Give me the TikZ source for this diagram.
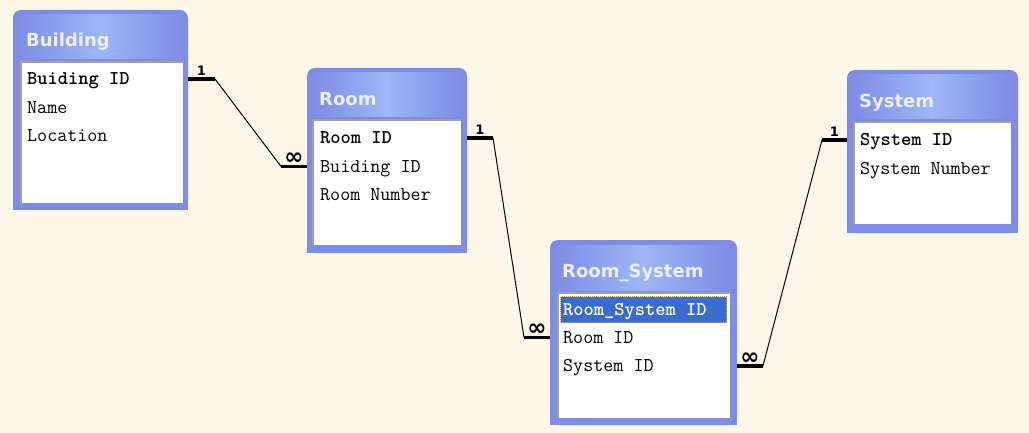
\documentclass[tikz,border=0pt]{standalone}
\usepackage{fontspec}
\usepackage{tikz}
\usetikzlibrary{positioning,calc}
\newfontfamily\headfont{DejaVu Sans}
\definecolor{paper}{HTML}{FBF8E9}
\definecolor{frame}{HTML}{7F8CE6}
\definecolor{glow}{HTML}{9DB6F5}
\definecolor{caption}{HTML}{EAF0FF}
\definecolor{inset}{HTML}{A0A0A0}
\definecolor{select}{HTML}{3B6CCB}
\definecolor{focus}{HTML}{D8A23A}

\begin{document}
\begin{tikzpicture}[x=1pt, y=-1pt,
    table/.style={rectangle, fill=frame, rounded corners=8pt, inner sep=0pt,
                  outer sep=0pt, anchor=north west},
    listbox/.style={rectangle, fill=white, inner sep=0pt, outer sep=0pt,
                    anchor=north west},
    header/.style={left color=frame, right color=frame, middle color=glow},
    title/.style={anchor=west, inner sep=0pt, text height=15.5pt, text depth=2.5pt,
                  font=\headfont\bfseries\fontsize{18}{20}\selectfont, text=caption},
    field/.style={anchor=west, inner sep=0pt, text height=13pt, text depth=1pt,
                  font=\ttfamily\fontsize{19.5}{21}\selectfont},
    pkey/.style={field, font=\ttfamily\bfseries\fontsize{19.5}{21}\selectfont},
    nextrow/.style={below=14pt of #1.south west, anchor=north west},
    edge/.style={draw=inset, line width=1.5pt},
    selrow/.style={rectangle, fill=select, draw=focus, densely dotted,
                   line width=1pt, inner sep=0pt, anchor=north west},
    stub/.style={draw=black, line width=3.5pt},
    link/.style={draw=black, line width=1pt},
    card/.style={inner sep=2pt, font=\headfont\bfseries\fontsize{13}{13}\selectfont},
    many/.style={inner sep=0pt, font=\headfont\bfseries\fontsize{23}{23}\selectfont},
]
\useasboundingbox (0,0) rectangle (1029,433);
\fill[paper] (0,0) rectangle (1029,433);

% Building
\node[table, minimum width=175pt, minimum height=200pt] (building) at (13,10) {};
\fill[frame] (building.west) rectangle (building.south east);
\node[listbox, minimum width=162pt, minimum height=141pt] (buildingbox) at (21,62) {};
\shade[header] ([xshift=5pt,yshift=-5pt]building.north west) rectangle ([yshift=3pt]buildingbox.north east);
\draw[edge] (buildingbox.south west) |- (buildingbox.north east);
\node[title] (buildingtitle) at (26,40) {Building};
\node[pkey] (bldgid) at (27,79) {Buiding ID};
\node[field, nextrow=bldgid] (bldgname) {Name};
\node[field, nextrow=bldgname] (bldgloc) {Location};

% Room
\node[table, minimum width=160pt, minimum height=185pt] (room) at (307,68) {};
\fill[frame] (room.west) rectangle (room.south east);
\node[listbox, minimum width=148pt, minimum height=125pt] (roombox) at (313,120) {};
\shade[header] ([xshift=5pt,yshift=-5pt]room.north west) rectangle ([yshift=3pt]roombox.north east);
\draw[edge] (roombox.south west) |- (roombox.north east);
\node[title] (roomtitle) at (319,99) {Room};
\node[pkey] (roomid) at (320,138) {Room ID};
\node[field, nextrow=roomid] (roombid) {Buiding ID};
\node[field, nextrow=roombid] (roomnum) {Room Number};

% Room_System
\node[table, minimum width=187pt, minimum height=185pt] (roomsys) at (550,240) {};
\fill[frame] (roomsys.west) rectangle (roomsys.south east);
\node[listbox, minimum width=172pt, minimum height=125pt] (roomsysbox) at (558,293) {};
\shade[header] ([xshift=5pt,yshift=-5pt]roomsys.north west) rectangle ([yshift=3pt]roomsysbox.north east);
\draw[edge] (roomsysbox.south west) |- (roomsysbox.north east);
\node[title] (roomsystitle) at (562,271) {Room\_System};
\node[selrow, minimum width=166pt, minimum height=26pt] (rssel) at (560,296) {};
\node[pkey, text=white] (rsid) at (563,309) {Room\_System ID};
\node[field, nextrow=rsid] (rsroom) {Room ID};
\node[field, nextrow=rsroom] (rssys) {System ID};

% System
\node[table, minimum width=171pt, minimum height=163pt] (system) at (847,70) {};
\fill[frame] (system.west) rectangle (system.south east);
\node[listbox, minimum width=157pt, minimum height=102pt] (systembox) at (854,122) {};
\shade[header] ([xshift=5pt,yshift=-5pt]system.north west) rectangle ([yshift=3pt]systembox.north east);
\draw[edge] (systembox.south west) |- (systembox.north east);
\node[title] (systemtitle) at (859,101) {System};
\node[pkey] (sysid) at (860,140) {System ID};
\node[field, nextrow=sysid] (sysnum) {System Number};

% relationships
\coordinate (j1a) at ($(building.east |- bldgid)+(27,0)$);
\coordinate (j1b) at ($(room.west |- roombid)+(-26,0)$);
\draw[link] (j1a) -- (j1b);
\draw[stub] (building.east |- bldgid) -- node[card, above] (one1) {1} (j1a);
\draw[stub] (j1b) -- node[many, above] (many1) {∞} (room.west |- roombid);

\coordinate (j2a) at ($(room.east |- roomid)+(26,0)$);
\coordinate (j2b) at ($(roomsys.west |- rsroom)+(-26,0)$);
\draw[link] (j2a) -- (j2b);
\draw[stub] (room.east |- roomid) -- node[card, above] (one2) {1} (j2a);
\draw[stub] (j2b) -- node[many, above] (many2) {∞} (roomsys.west |- rsroom);

\coordinate (j3a) at ($(roomsys.east |- rssys)+(26,0)$);
\coordinate (j3b) at ($(system.west |- sysid)+(-25,0)$);
\draw[link] (j3a) -- (j3b);
\draw[stub] (roomsys.east |- rssys) -- node[many, above] (many3) {∞} (j3a);
\draw[stub] (j3b) -- node[card, above] (one3) {1} (system.west |- sysid);
\end{tikzpicture}
\end{document}
